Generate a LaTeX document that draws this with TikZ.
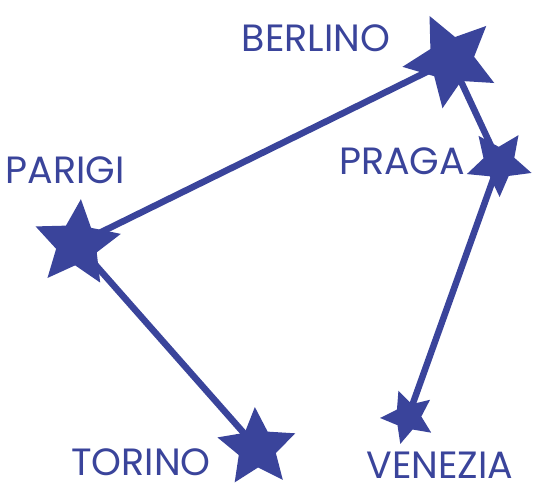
\documentclass[tikz,border=0pt]{standalone}
\usepackage{fontspec}
\setmainfont{Poppins}
\usetikzlibrary{shapes.geometric}
\definecolor{mapblue}{RGB}{58,68,155}

\begin{document}
\begin{tikzpicture}[x=1pt,y=-1pt,
    city/.style={star, star points=5, star point ratio=2.1, fill=mapblue, draw=none, inner sep=0pt},
    route/.style={draw=mapblue, line width=6.5pt},
    label/.style={text=mapblue, font=\fontsize{38}{38}\selectfont, inner sep=0pt}]
    \useasboundingbox (0,0) rectangle (538,491);

    % cities
    \node[city, minimum size=98pt, rotate=26] (berlino) at (451,60) {};
    \node[city, minimum size=68pt, rotate=-35] (praga) at (499,163) {};
    \node[city, minimum size=90pt, rotate=-5] (parigi) at (77,244) {};
    \node[city, minimum size=82pt, rotate=3] (torino) at (257,448) {};
    \node[city, minimum size=56pt, rotate=20] (venezia) at (408,417) {};

    % routes
    \draw[route] (parigi.center) -- (berlino.center);
    \draw[route] (berlino.center) -- (praga.center);
    \draw[route] (praga.center) -- (venezia.center);
    \draw[route] (parigi.center) -- (torino.center);

    % names
    \node[label] (tberlino) at (316,38) {BERLINO};
    \node[label] (tpraga) at (402,161) {PRAGA};
    \node[label] (tparigi) at (65,170) {PARIGI};
    \node[label] (ttorino) at (141,462) {TORINO};
    \node[label] (tvenezia) at (440,465) {VENEZIA};
\end{tikzpicture}
\end{document}
